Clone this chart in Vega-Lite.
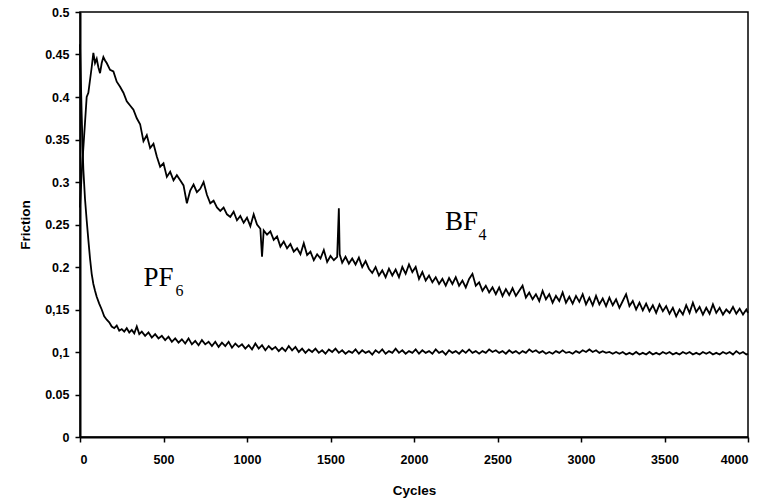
{
  "$schema": "https://vega.github.io/schema/vega-lite/v6.json",
  "autosize": "none",
  "width": 668,
  "height": 425,
  "padding": {"left": 80, "top": 12, "right": 23, "bottom": 64},
  "background": "white",
  "config": {
    "view": {"stroke": "black", "strokeWidth": 1.5},
    "axis": {"grid": false, "domainColor": "black", "domainWidth": 2, "tickColor": "black", "tickWidth": 1.5, "tickSize": 5,
      "labelFont": "Liberation Sans", "labelFontWeight": "bold", "labelFontSize": 12.5, "labelColor": "black",
      "titleFont": "Liberation Sans", "titleFontWeight": "bold", "titleFontSize": 13.5, "titleColor": "black"}
  },
  "datasets": {
    "bf4": [
      {"c":0,"f":0.27},{"c":10,"f":0.31},{"c":20,"f":0.34},{"c":30,"f":0.37},{"c":40,"f":0.4},{"c":50,"f":0.405},{"c":60,"f":0.42},{"c":70,"f":0.435},{"c":80,"f":0.452},{"c":90,"f":0.44},{"c":100,"f":0.445},{"c":110,"f":0.435},{"c":120,"f":0.428},{"c":130,"f":0.44},{"c":140,"f":0.447},{"c":150,"f":0.443},{"c":160,"f":0.44},{"c":180,"f":0.432},{"c":200,"f":0.43},{"c":220,"f":0.418},{"c":240,"f":0.412},{"c":260,"f":0.405},{"c":280,"f":0.395},{"c":300,"f":0.39},{"c":320,"f":0.385},{"c":340,"f":0.375},{"c":360,"f":0.368},{"c":380,"f":0.348},{"c":400,"f":0.355},{"c":420,"f":0.34},{"c":440,"f":0.345},{"c":460,"f":0.33},{"c":480,"f":0.318},{"c":500,"f":0.322},{"c":520,"f":0.306},{"c":540,"f":0.312},{"c":560,"f":0.302},{"c":580,"f":0.308},{"c":600,"f":0.302},{"c":620,"f":0.296},{"c":640,"f":0.275},{"c":660,"f":0.29},{"c":680,"f":0.297},{"c":700,"f":0.288},{"c":720,"f":0.292},{"c":740,"f":0.3},{"c":760,"f":0.285},{"c":780,"f":0.275},{"c":800,"f":0.278},{"c":820,"f":0.27},{"c":840,"f":0.266},{"c":860,"f":0.27},{"c":880,"f":0.262},{"c":900,"f":0.259},{"c":920,"f":0.265},{"c":940,"f":0.255},{"c":960,"f":0.26},{"c":980,"f":0.252},{"c":1000,"f":0.258},{"c":1020,"f":0.248},{"c":1040,"f":0.262},{"c":1060,"f":0.25},{"c":1080,"f":0.245},{"c":1090,"f":0.212},{"c":1100,"f":0.243},{"c":1120,"f":0.238},{"c":1140,"f":0.242},{"c":1160,"f":0.232},{"c":1180,"f":0.236},{"c":1200,"f":0.224},{"c":1220,"f":0.23},{"c":1240,"f":0.222},{"c":1260,"f":0.227},{"c":1280,"f":0.218},{"c":1300,"f":0.222},{"c":1320,"f":0.215},{"c":1340,"f":0.228},{"c":1360,"f":0.214},{"c":1380,"f":0.218},{"c":1400,"f":0.208},{"c":1420,"f":0.215},{"c":1440,"f":0.21},{"c":1460,"f":0.22},{"c":1480,"f":0.206},{"c":1500,"f":0.213},{"c":1520,"f":0.208},{"c":1540,"f":0.212},{"c":1550,"f":0.269},{"c":1555,"f":0.215},{"c":1570,"f":0.205},{"c":1590,"f":0.212},{"c":1610,"f":0.204},{"c":1630,"f":0.21},{"c":1650,"f":0.203},{"c":1670,"f":0.211},{"c":1690,"f":0.2},{"c":1710,"f":0.207},{"c":1730,"f":0.198},{"c":1750,"f":0.193},{"c":1770,"f":0.2},{"c":1790,"f":0.19},{"c":1810,"f":0.196},{"c":1830,"f":0.188},{"c":1850,"f":0.198},{"c":1870,"f":0.19},{"c":1890,"f":0.197},{"c":1910,"f":0.188},{"c":1930,"f":0.2},{"c":1950,"f":0.192},{"c":1970,"f":0.203},{"c":1990,"f":0.194},{"c":2010,"f":0.2},{"c":2030,"f":0.186},{"c":2050,"f":0.194},{"c":2070,"f":0.184},{"c":2090,"f":0.19},{"c":2110,"f":0.182},{"c":2130,"f":0.188},{"c":2150,"f":0.18},{"c":2170,"f":0.186},{"c":2190,"f":0.178},{"c":2210,"f":0.187},{"c":2230,"f":0.18},{"c":2250,"f":0.188},{"c":2270,"f":0.178},{"c":2290,"f":0.184},{"c":2310,"f":0.176},{"c":2330,"f":0.186},{"c":2350,"f":0.192},{"c":2370,"f":0.178},{"c":2390,"f":0.182},{"c":2410,"f":0.172},{"c":2430,"f":0.178},{"c":2450,"f":0.17},{"c":2470,"f":0.176},{"c":2490,"f":0.168},{"c":2510,"f":0.176},{"c":2530,"f":0.166},{"c":2550,"f":0.174},{"c":2570,"f":0.167},{"c":2590,"f":0.175},{"c":2610,"f":0.166},{"c":2630,"f":0.172},{"c":2650,"f":0.178},{"c":2670,"f":0.164},{"c":2690,"f":0.17},{"c":2710,"f":0.162},{"c":2730,"f":0.168},{"c":2750,"f":0.16},{"c":2770,"f":0.172},{"c":2790,"f":0.162},{"c":2810,"f":0.168},{"c":2830,"f":0.158},{"c":2850,"f":0.166},{"c":2870,"f":0.16},{"c":2890,"f":0.17},{"c":2910,"f":0.158},{"c":2930,"f":0.165},{"c":2950,"f":0.157},{"c":2970,"f":0.166},{"c":2990,"f":0.159},{"c":3010,"f":0.168},{"c":3030,"f":0.156},{"c":3050,"f":0.164},{"c":3070,"f":0.155},{"c":3090,"f":0.166},{"c":3110,"f":0.156},{"c":3130,"f":0.163},{"c":3150,"f":0.154},{"c":3170,"f":0.164},{"c":3190,"f":0.155},{"c":3210,"f":0.162},{"c":3230,"f":0.152},{"c":3250,"f":0.16},{"c":3270,"f":0.168},{"c":3290,"f":0.154},{"c":3310,"f":0.16},{"c":3330,"f":0.15},{"c":3350,"f":0.158},{"c":3370,"f":0.149},{"c":3390,"f":0.157},{"c":3410,"f":0.148},{"c":3430,"f":0.155},{"c":3450,"f":0.146},{"c":3470,"f":0.156},{"c":3490,"f":0.148},{"c":3510,"f":0.154},{"c":3530,"f":0.145},{"c":3550,"f":0.152},{"c":3570,"f":0.142},{"c":3590,"f":0.15},{"c":3610,"f":0.144},{"c":3630,"f":0.155},{"c":3650,"f":0.146},{"c":3670,"f":0.158},{"c":3690,"f":0.147},{"c":3710,"f":0.153},{"c":3730,"f":0.144},{"c":3750,"f":0.152},{"c":3770,"f":0.145},{"c":3790,"f":0.156},{"c":3810,"f":0.146},{"c":3830,"f":0.152},{"c":3850,"f":0.144},{"c":3870,"f":0.15},{"c":3890,"f":0.146},{"c":3910,"f":0.153},{"c":3930,"f":0.145},{"c":3950,"f":0.151},{"c":3970,"f":0.144},{"c":3990,"f":0.15},{"c":4000,"f":0.146}
    ],
    "pf6": [
      {"c":0,"f":0.462},{"c":5,"f":0.42},{"c":10,"f":0.38},{"c":15,"f":0.345},{"c":20,"f":0.315},{"c":30,"f":0.28},{"c":40,"f":0.255},{"c":50,"f":0.232},{"c":60,"f":0.21},{"c":70,"f":0.192},{"c":80,"f":0.18},{"c":90,"f":0.172},{"c":100,"f":0.165},{"c":115,"f":0.157},{"c":130,"f":0.15},{"c":145,"f":0.142},{"c":160,"f":0.138},{"c":175,"f":0.135},{"c":190,"f":0.13},{"c":205,"f":0.128},{"c":220,"f":0.131},{"c":235,"f":0.125},{"c":250,"f":0.127},{"c":265,"f":0.124},{"c":280,"f":0.128},{"c":295,"f":0.123},{"c":310,"f":0.126},{"c":325,"f":0.122},{"c":340,"f":0.13},{"c":355,"f":0.121},{"c":370,"f":0.124},{"c":390,"f":0.119},{"c":410,"f":0.123},{"c":430,"f":0.117},{"c":450,"f":0.121},{"c":470,"f":0.116},{"c":490,"f":0.119},{"c":510,"f":0.114},{"c":530,"f":0.118},{"c":550,"f":0.112},{"c":570,"f":0.116},{"c":590,"f":0.111},{"c":610,"f":0.115},{"c":630,"f":0.11},{"c":650,"f":0.116},{"c":670,"f":0.109},{"c":690,"f":0.113},{"c":710,"f":0.108},{"c":730,"f":0.114},{"c":750,"f":0.109},{"c":770,"f":0.112},{"c":790,"f":0.107},{"c":810,"f":0.112},{"c":830,"f":0.106},{"c":850,"f":0.111},{"c":870,"f":0.107},{"c":890,"f":0.112},{"c":910,"f":0.105},{"c":930,"f":0.11},{"c":950,"f":0.106},{"c":970,"f":0.109},{"c":990,"f":0.104},{"c":1010,"f":0.108},{"c":1030,"f":0.103},{"c":1050,"f":0.11},{"c":1070,"f":0.104},{"c":1090,"f":0.108},{"c":1110,"f":0.102},{"c":1130,"f":0.107},{"c":1150,"f":0.103},{"c":1170,"f":0.106},{"c":1190,"f":0.101},{"c":1210,"f":0.105},{"c":1230,"f":0.101},{"c":1250,"f":0.107},{"c":1270,"f":0.102},{"c":1290,"f":0.106},{"c":1310,"f":0.1},{"c":1330,"f":0.104},{"c":1350,"f":0.099},{"c":1370,"f":0.103},{"c":1390,"f":0.1},{"c":1410,"f":0.104},{"c":1430,"f":0.099},{"c":1450,"f":0.102},{"c":1470,"f":0.098},{"c":1490,"f":0.103},{"c":1510,"f":0.1},{"c":1530,"f":0.104},{"c":1550,"f":0.099},{"c":1570,"f":0.102},{"c":1590,"f":0.098},{"c":1610,"f":0.101},{"c":1630,"f":0.099},{"c":1650,"f":0.103},{"c":1670,"f":0.098},{"c":1690,"f":0.102},{"c":1710,"f":0.099},{"c":1730,"f":0.101},{"c":1750,"f":0.097},{"c":1770,"f":0.102},{"c":1790,"f":0.099},{"c":1810,"f":0.103},{"c":1830,"f":0.098},{"c":1850,"f":0.101},{"c":1870,"f":0.099},{"c":1890,"f":0.104},{"c":1910,"f":0.099},{"c":1930,"f":0.102},{"c":1950,"f":0.098},{"c":1970,"f":0.101},{"c":1990,"f":0.099},{"c":2010,"f":0.103},{"c":2030,"f":0.098},{"c":2050,"f":0.102},{"c":2070,"f":0.099},{"c":2090,"f":0.101},{"c":2110,"f":0.098},{"c":2130,"f":0.103},{"c":2150,"f":0.099},{"c":2170,"f":0.101},{"c":2190,"f":0.097},{"c":2210,"f":0.102},{"c":2230,"f":0.099},{"c":2250,"f":0.101},{"c":2270,"f":0.098},{"c":2290,"f":0.102},{"c":2310,"f":0.099},{"c":2330,"f":0.103},{"c":2350,"f":0.099},{"c":2370,"f":0.101},{"c":2390,"f":0.098},{"c":2410,"f":0.101},{"c":2430,"f":0.099},{"c":2450,"f":0.103},{"c":2470,"f":0.1},{"c":2490,"f":0.102},{"c":2510,"f":0.099},{"c":2530,"f":0.101},{"c":2550,"f":0.098},{"c":2570,"f":0.102},{"c":2590,"f":0.099},{"c":2610,"f":0.101},{"c":2630,"f":0.098},{"c":2650,"f":0.101},{"c":2670,"f":0.099},{"c":2690,"f":0.103},{"c":2710,"f":0.1},{"c":2730,"f":0.102},{"c":2750,"f":0.099},{"c":2770,"f":0.101},{"c":2790,"f":0.098},{"c":2810,"f":0.1},{"c":2830,"f":0.098},{"c":2850,"f":0.101},{"c":2870,"f":0.099},{"c":2890,"f":0.102},{"c":2910,"f":0.099},{"c":2930,"f":0.1},{"c":2950,"f":0.098},{"c":2970,"f":0.101},{"c":2990,"f":0.099},{"c":3010,"f":0.102},{"c":3030,"f":0.1},{"c":3050,"f":0.103},{"c":3070,"f":0.1},{"c":3090,"f":0.102},{"c":3110,"f":0.099},{"c":3130,"f":0.101},{"c":3150,"f":0.099},{"c":3170,"f":0.1},{"c":3190,"f":0.098},{"c":3210,"f":0.1},{"c":3230,"f":0.098},{"c":3250,"f":0.1},{"c":3270,"f":0.097},{"c":3290,"f":0.099},{"c":3310,"f":0.097},{"c":3330,"f":0.1},{"c":3350,"f":0.097},{"c":3370,"f":0.099},{"c":3390,"f":0.097},{"c":3410,"f":0.1},{"c":3430,"f":0.097},{"c":3450,"f":0.099},{"c":3470,"f":0.097},{"c":3490,"f":0.1},{"c":3510,"f":0.098},{"c":3530,"f":0.1},{"c":3550,"f":0.097},{"c":3570,"f":0.099},{"c":3590,"f":0.097},{"c":3610,"f":0.1},{"c":3630,"f":0.098},{"c":3650,"f":0.1},{"c":3670,"f":0.097},{"c":3690,"f":0.099},{"c":3710,"f":0.097},{"c":3730,"f":0.1},{"c":3750,"f":0.098},{"c":3770,"f":0.1},{"c":3790,"f":0.097},{"c":3810,"f":0.099},{"c":3830,"f":0.097},{"c":3850,"f":0.1},{"c":3870,"f":0.098},{"c":3890,"f":0.1},{"c":3910,"f":0.097},{"c":3930,"f":0.101},{"c":3950,"f":0.098},{"c":3970,"f":0.1},{"c":3990,"f":0.097},{"c":4000,"f":0.098}
    ],
    "labels": [
      {"c":2285,"f":0.253,"main":"BF","sub":"4"},
      {"c":470,"f":0.187,"main":"PF","sub":"6"}
    ]
  },
  "encoding": {
    "x": {"field": "c", "type": "quantitative", "title": "Cycles",
      "scale": {"domain": [0, 4000], "nice": false},
      "axis": {"values": [0,500,1000,1500,2000,2500,3000,3500,4000], "format": "d", "labelPadding": 11, "titlePadding": 18}},
    "y": {"field": "f", "type": "quantitative", "title": "Friction",
      "scale": {"domain": [0, 0.5], "nice": false},
      "axis": {"values": [0,0.05,0.1,0.15,0.2,0.25,0.3,0.35,0.4,0.45,0.5],
        "labelExpr": "abs(datum.value-0.15)<1e-6 ? '0,15' : abs(datum.value-0.1)<1e-6 ? '0,1' : format(datum.value, '.2~f')",
        "labelPadding": 6, "titlePadding": 12}}
  },
  "layer": [
    {"data": {"name": "bf4"}, "mark": {"type": "line", "color": "black", "strokeWidth": 1.8}},
    {"data": {"name": "pf6"}, "mark": {"type": "line", "color": "black", "strokeWidth": 1.8}},
    {"data": {"name": "labels"}, "mark": {"type": "text", "font": "Liberation Serif", "fontSize": 27, "color": "black", "align": "center", "baseline": "middle"},
      "encoding": {"text": {"field": "main"}}},
    {"data": {"name": "labels"}, "mark": {"type": "text", "font": "Liberation Serif", "fontSize": 16, "color": "black", "align": "left", "baseline": "middle", "dx": 17, "dy": 13},
      "encoding": {"text": {"field": "sub"}}}
  ]
}
